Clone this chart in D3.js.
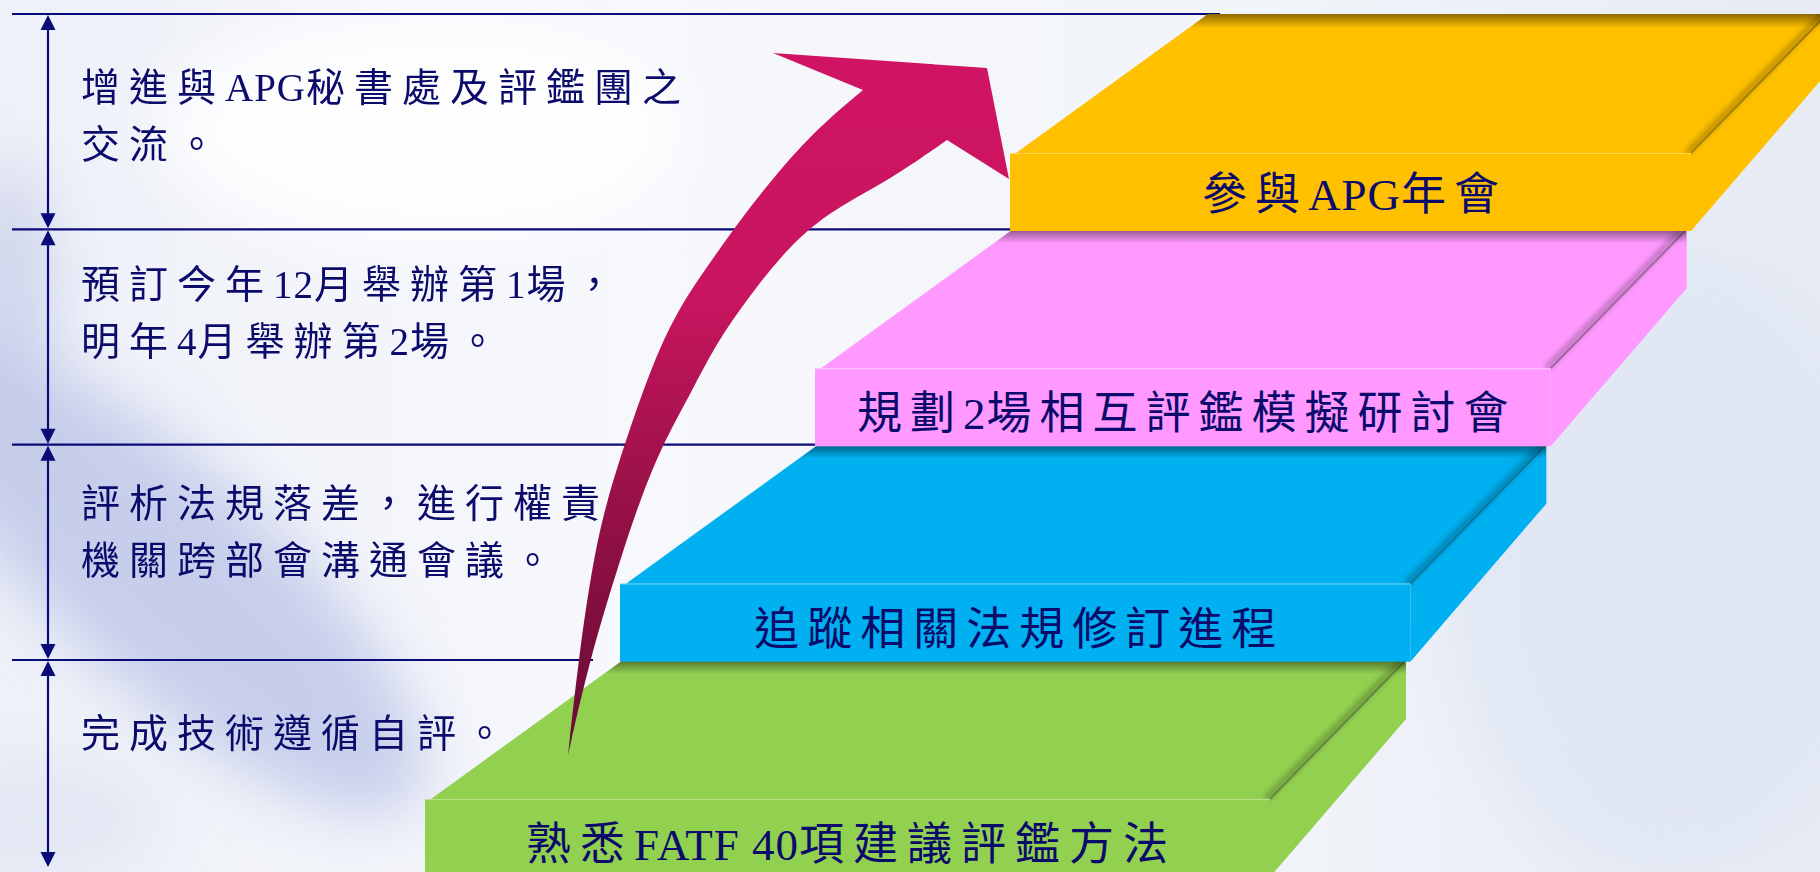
<!DOCTYPE html>
<html lang="zh-Hant">
<head>
  <meta charset="UTF-8">
  <title>APG 相互評鑑準備階梯</title>
  <style>
    html, body { margin: 0; padding: 0; background: #f3f5fa; overflow: hidden; }
    svg { display: block; }
    .note { font-family: "Liberation Serif", "Noto Sans CJK TC", serif; fill: #0b0b6b; font-size: 39px; }
    .step-label { font-family: "Liberation Serif", "Noto Sans CJK TC", serif; fill: #0b0b6b; font-size: 45px; }
  </style>
</head>
<body>
  <svg id="viz"></svg>
  <script src="https://d3js.org/d3.v7.min.js"></script>
  <script>
    // steps, bottom to top
    const stepLabels = ["熟悉FATF 40項建議評鑑方法", "追蹤相關法規修訂進程", "規劃2場相互評鑑模擬研討會", "參與APG年會"];
    const stepColors = ["#92d050", "#00b0f0", "#ff99ff", "#ffc000"];
    const stepNotes = [
      ["完成技術遵循自評。"],
      ["評析法規落差，進行權責", "機關跨部會溝通會議。"],
      ["預訂今年12月舉辦第1場，", "明年4月舉辦第2場。"],
      ["增進與APG秘書處及評鑑團之", "交流。"]
    ];

    const W = 1820, H = 872;
    const navy = "#0a0a78";

    // layout of the stair
    const idx = d3.scaleLinear().domain([0, 3]);
    const frontLeft = idx.copy().range([425, 1010]);
    const frontRight = idx.copy().range([1270, 1691]);
    const frontTop = idx.copy().range([799, 153]);
    const frontH = 78, depthX = 198, depthY = 139, sideX = 136, sideDrop = 80;
    const noteOffset = [87, 72, 69, 87];
    const labelSpacing = [9, 8, 8, 8];

    const svg = d3.select("#viz").attr("width", W).attr("height", H);
    const defs = svg.append("defs");

    // CJK gets wide tracking, latin runs stay tight
    function addRuns(sel, str, ls) {
      str.match(/[A-Za-z0-9 ]+|[^A-Za-z0-9 ]+/g).forEach(run => {
        sel.append("tspan").attr("letter-spacing", /[A-Za-z0-9]/.test(run) ? 1 : ls).text(run);
      });
    }

    // background
    const bg = defs.append("linearGradient").attr("id", "bg").attr("x1", 0).attr("x2", 1).attr("y1", 0).attr("y2", 0);
    bg.append("stop").attr("offset", 0).attr("stop-color", "#eef1f8");
    bg.append("stop").attr("offset", 0.35).attr("stop-color", "#f7f8fc");
    bg.append("stop").attr("offset", 0.7).attr("stop-color", "#f1f4f9");
    bg.append("stop").attr("offset", 1).attr("stop-color", "#e6ebf4");
    svg.append("rect").attr("width", W).attr("height", H).attr("fill", "url(#bg)");

    defs.append("filter").attr("id", "blurBig").attr("x", "-50%").attr("y", "-50%").attr("width", "200%").attr("height", "200%")
      .append("feGaussianBlur").attr("stdDeviation", 30);
    defs.append("filter").attr("id", "blurSmall").attr("x", "-20%").attr("y", "-20%").attr("width", "140%").attr("height", "140%")
      .append("feGaussianBlur").attr("stdDeviation", 2.5);

    const haze = svg.append("g").attr("filter", "url(#blurBig)");
    haze.append("ellipse").attr("cx", 170).attr("cy", 580).attr("rx", 330).attr("ry", 110)
      .attr("transform", "rotate(42 170 580)").attr("fill", "#b8c2e6").attr("opacity", 0.75);
    haze.append("ellipse").attr("cx", 10).attr("cy", 330).attr("rx", 45).attr("ry", 170)
      .attr("fill", "#c4cbe8").attr("opacity", 0.75);
    haze.append("ellipse").attr("cx", 40).attr("cy", 820).attr("rx", 120).attr("ry", 60)
      .attr("fill", "#dde2f1").attr("opacity", 0.7);
    haze.append("ellipse").attr("cx", 1660).attr("cy", 560).attr("rx", 220).attr("ry", 320)
      .attr("fill", "#dfe6f2").attr("opacity", 0.8);
    haze.append("ellipse").attr("cx", 420).attr("cy", 130).attr("rx", 260).attr("ry", 120)
      .attr("fill", "#ffffff").attr("opacity", 0.8);

    // left side: separators, double arrows, notes
    const bandTop = i => frontTop(i) - depthY;
    const bandBottom = i => i === 0 ? H : frontTop(i - 1) - depthY;
    const lineEnd = i => i < 3 ? frontLeft(i + 1) - (i === 0 ? 27 : 0) : frontLeft(3) + depthX + 12;

    const left = svg.append("g");
    const ax = 48, head = 15;

    d3.range(4).forEach(i => {
      const y0 = bandTop(i), y1 = bandBottom(i);
      left.append("line").attr("x1", 12).attr("x2", lineEnd(i)).attr("y1", y0).attr("y2", y0)
        .attr("stroke", navy).attr("stroke-width", 2.2);
      const yb = i === 0 ? H - 4 : y1;
      left.append("line").attr("x1", ax).attr("x2", ax).attr("y1", y0 + head).attr("y2", yb - head)
        .attr("stroke", navy).attr("stroke-width", 2.2);
      left.append("path").attr("d", `M${ax},${y0 + 1}L${ax - 7.5},${y0 + head + 1}L${ax + 7.5},${y0 + head + 1}Z`).attr("fill", navy);
      left.append("path").attr("d", `M${ax},${yb - 1}L${ax - 7.5},${yb - head - 1}L${ax + 7.5},${yb - head - 1}Z`).attr("fill", navy);

      stepNotes[i].forEach((t, k) => {
        const tx = left.append("text").attr("class", "note")
          .attr("x", 81).attr("y", y0 + noteOffset[i] + k * 57);
        addRuns(tx, t, 9);
      });
    });

    // stair slabs, drawn bottom to top
    const slabs = svg.append("g");
    d3.range(4).forEach(i => {
      const fl = frontLeft(i), fr = frontRight(i), ft = frontTop(i), fb = ft + frontH;
      const col = stepColors[i];
      const topFace = [[fl + 6, ft], [fl + depthX, ft - depthY], [fr + sideX, ft - depthY], [fr, ft]];
      const sideFace = [[fr, ft], [fr + sideX, ft - depthY], [fr + sideX, ft - sideDrop], [fr, fb]];
      const poly = d3.line();
      const g = slabs.append("g");

      const clipId = "clip" + i;
      const clip = defs.append("clipPath").attr("id", clipId);
      clip.append("path").attr("d", poly(topFace) + "Z");
      clip.append("path").attr("d", poly(sideFace) + "Z");

      g.append("path").attr("d", poly(topFace) + "Z").attr("fill", col);
      g.append("path").attr("d", poly(sideFace) + "Z").attr("fill", col);

      // shadow along the back edge
      const sh = defs.append("linearGradient").attr("id", "sh" + i).attr("x1", 0).attr("x2", 0).attr("y1", 0).attr("y2", 1);
      sh.append("stop").attr("offset", 0).attr("stop-color", "#000").attr("stop-opacity", 0.45);
      sh.append("stop").attr("offset", 1).attr("stop-color", "#000").attr("stop-opacity", 0);
      const cg = g.append("g").attr("clip-path", `url(#${clipId})`);
      cg.append("rect").attr("x", fl).attr("y", ft - depthY).attr("width", fr + sideX - fl).attr("height", 14)
        .attr("fill", `url(#sh${i})`);
      // bevel between top and right faces
      cg.append("line").attr("x1", fr - 4).attr("y1", ft).attr("x2", fr + sideX - 4).attr("y2", ft - depthY)
        .attr("stroke", "#000").attr("stroke-opacity", 0.22).attr("stroke-width", 7).attr("filter", "url(#blurSmall)");
      cg.append("line").attr("x1", fr).attr("y1", ft).attr("x2", fr + sideX).attr("y2", ft - depthY)
        .attr("stroke", "#000").attr("stroke-opacity", 0.3).attr("stroke-width", 1.6);

      // front face
      g.append("rect").attr("x", fl).attr("y", ft).attr("width", fr - fl).attr("height", frontH).attr("fill", col);
      g.append("line").attr("x1", fl).attr("x2", fr).attr("y1", ft + 0.5).attr("y2", ft + 0.5)
        .attr("stroke", "#fff").attr("stroke-opacity", 0.35).attr("stroke-width", 1);

      const lab = g.append("text").attr("class", "step-label")
        .attr("x", (fl + fr) / 2 + 4).attr("y", ft + frontH / 2 + 18 + (i < 3 ? 4 : 0))
        .attr("text-anchor", "middle");
      addRuns(lab, stepLabels[i], labelSpacing[i]);
    });

    // curved arrow
    const ag = defs.append("linearGradient").attr("id", "arrowGrad").attr("gradientUnits", "userSpaceOnUse")
      .attr("x1", 0).attr("x2", 0).attr("y1", 50).attr("y2", 760);
    ag.append("stop").attr("offset", 0).attr("stop-color", "#d01463");
    ag.append("stop").attr("offset", 0.35).attr("stop-color", "#c8155f");
    ag.append("stop").attr("offset", 0.62).attr("stop-color", "#9a1148");
    ag.append("stop").attr("offset", 1).attr("stop-color", "#640a35");

    const outerEdge = [[568, 755], [579, 655], [593, 560], [607, 500], [625, 443], [650, 370], [677, 310], [712, 260], [733, 230], [767, 185], [813, 132], [863, 90]];
    const arrowHead = [[773, 53], [987, 68], [1009, 179], [947, 140]];
    const innerEdge = [[947, 140], [890, 180], [832, 210], [790, 245], [750, 295], [715, 345], [690, 395], [663, 443], [640, 500], [620, 560], [590, 658], [568, 755]];
    const curve = d3.line().curve(d3.curveBasis);
    const arrowD = curve(outerEdge) + "L" + arrowHead.map(p => p.join(",")).join("L") + curve(innerEdge).replace(/^M/, "L") + "Z";
    svg.append("path").attr("d", arrowD).attr("fill", "url(#arrowGrad)");
  </script>
</body>
</html>
